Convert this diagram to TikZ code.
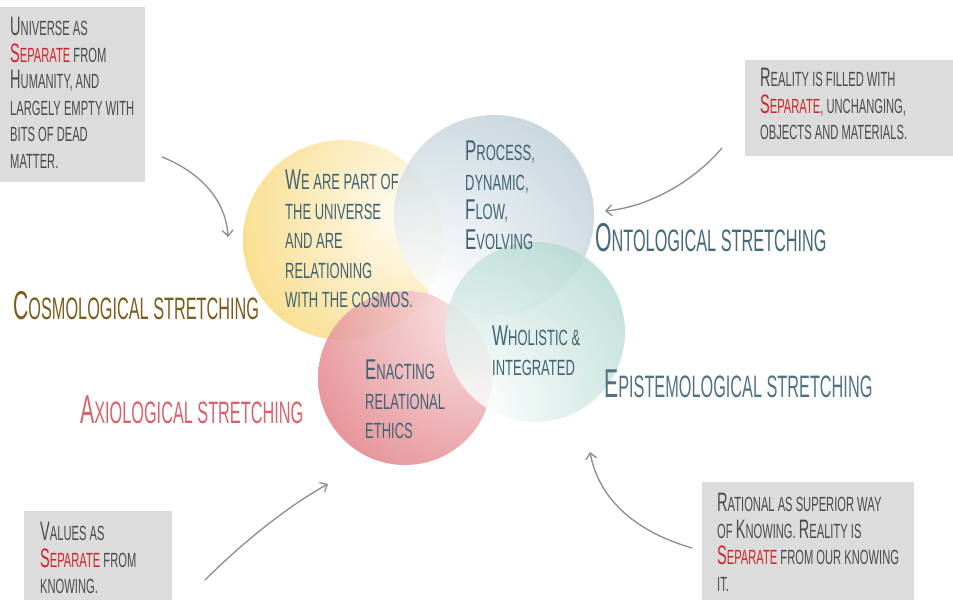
\documentclass[tikz,border=0pt]{standalone}
\usepackage{fontspec}
\usepackage{graphicx}
\setmainfont{Liberation Sans}
\newfontfamily\boxfont{Liberation Sans}[FakeStretch=0.545]
\newfontfamily\circfont{Liberation Sans}[FakeStretch=0.59]
\newfontfamily\labfont{Liberation Sans}[FakeStretch=0.525]
\usetikzlibrary{arrows.meta}
\definecolor{boxgray}{HTML}{DCDCDC}
\definecolor{txtgray}{HTML}{4A4A4A}
\definecolor{sepred}{HTML}{D0262B}
\definecolor{circtxt}{HTML}{3F6275}
\definecolor{cyel}{HTML}{F7D05E}
\definecolor{cblue}{HTML}{9AB4C2}
\definecolor{cgreen}{HTML}{94CABD}
\definecolor{cred}{HTML}{DA5F66}
\definecolor{lcosmo}{HTML}{7D5C1C}
\definecolor{laxio}{HTML}{D9626A}
\definecolor{lonto}{HTML}{46697A}
\definecolor{lepist}{HTML}{4F7380}
\definecolor{arrgray}{HTML}{8C8C8C}
\newcommand\ini[1]{\scalebox{1.3}{#1}}
\tikzset{
  graybox/.style={fill=boxgray, draw=none, anchor=north west, inner sep=0},
  boxtext/.style={font=\boxfont\fontsize{20.5}{26.5}\selectfont, text=txtgray, align=left, anchor=north west, inner sep=0},
  circletext/.style={font=\circfont\fontsize{22}{29.5}\selectfont, text=circtxt, align=left, anchor=north west, inner sep=0},
  bigLabel/.style={font=\labfont\fontsize{31}{34}\selectfont, anchor=west, inner sep=0},
  curvearrow/.style={draw=arrgray, line width=1.3pt, line cap=round, -{Straight Barb[length=6pt,width=11pt,line width=1.3pt]}},
}
\begin{document}
\begin{tikzpicture}[x=1pt,y=-1pt]
\useasboundingbox (0,0) rectangle (953,600);
% circles
\begin{scope}[opacity=0.92]
  \clip (343,240) circle (100);
  \shade[inner color=cyel!8, outer color=cyel] (405,215) circle (230);
\end{scope}
\begin{scope}[opacity=0.87]
  \clip (405,378) circle (87);
  \shade[inner color=cred!18, outer color=cred] (475,312) circle (260);
\end{scope}
\begin{scope}[opacity=0.84]
  \clip (494,215) circle (100);
  \shade[inner color=white, outer color=cblue] (430,295) circle (320);
\end{scope}
\begin{scope}[opacity=0.84]
  \clip (535,332) circle (90);
  \shade[inner color=white, outer color=cgreen] (475,410) circle (280);
\end{scope}
% gray boxes
\node (tlbox) [graybox, minimum width=145, minimum height=175] at (0,7) {};
\node (trbox) [graybox, minimum width=208, minimum height=96] at (745,60) {};
\node (blbox) [graybox, minimum width=148, minimum height=89] at (24,511) {};
\node (brbox) [graybox, minimum width=212, minimum height=118] at (702,482) {};
% box texts
\node (tltxt) [boxtext] at (10,17) {\ini{U}NIVERSE AS\\ {\color{sepred}\ini{S}EPARATE} FROM\\ \ini{H}UMANITY, AND\\ LARGELY EMPTY WITH\\ BITS OF DEAD\\ MATTER.};
\node (trtxt) [boxtext] at (760,68) {\ini{R}EALITY IS FILLED WITH\\ {\color{sepred}\ini{S}EPARATE,} UNCHANGING,\\ OBJECTS AND MATERIALS.};
\node (bltxt) [boxtext] at (40,522) {\ini{V}ALUES AS\\ {\color{sepred}\ini{S}EPARATE} FROM\\ KNOWING.};
\node (brtxt) [boxtext] at (717,493) {\ini{R}ATIONAL AS SUPERIOR WAY\\ OF \ini{K}NOWING. \ini{R}EALITY IS\\ {\color{sepred}\ini{S}EPARATE} FROM OUR KNOWING\\ IT.};
% circle texts
\node (ytxt) [circletext] at (285,170) {\ini{W}E ARE PART OF\\ THE UNIVERSE\\ AND ARE\\ RELATIONING\\ WITH THE COSMOS.};
\node (btxt) [circletext] at (465,141) {\ini{P}ROCESS,\\ DYNAMIC,\\ \ini{F}LOW,\\ \ini{E}VOLVING};
\node (gtxt) [circletext] at (492,326) {\ini{W}HOLISTIC \&\\ INTEGRATED};
\node (rtxt) [circletext] at (365,360) {\ini{E}NACTING\\ RELATIONAL\\ ETHICS};
% labels
\node (cosmo) [bigLabel, text=lcosmo] at (13,306) {\ini{C}OSMOLOGICAL STRETCHING};
\node (axio) [bigLabel, text=laxio] at (80,410) {\ini{A}XIOLOGICAL STRETCHING};
\node (onto) [bigLabel, text=lonto] at (595,238) {\ini{O}NTOLOGICAL STRETCHING};
\node (epist) [bigLabel, text=lepist] at (604,384) {\ini{E}PISTEMOLOGICAL STRETCHING};
% arrows
\coordinate (a1s) at (162,157); \coordinate (a1e) at (228,237);
\coordinate (a2s) at (722,148); \coordinate (a2e) at (605,211);
\coordinate (a3s) at (205,580); \coordinate (a3e) at (328,484);
\coordinate (a4s) at (692,548); \coordinate (a4e) at (590,452);
\draw[curvearrow] (a1s) .. controls (200,172) and (226,200) .. (a1e);
\draw[curvearrow] (a2s) .. controls (695,180) and (650,207) .. (a2e);
\draw[curvearrow] (a3s) .. controls (245,540) and (290,505) .. (a3e);
\draw[curvearrow] (a4s) .. controls (630,530) and (598,495) .. (a4e);
\end{tikzpicture}
\end{document}
